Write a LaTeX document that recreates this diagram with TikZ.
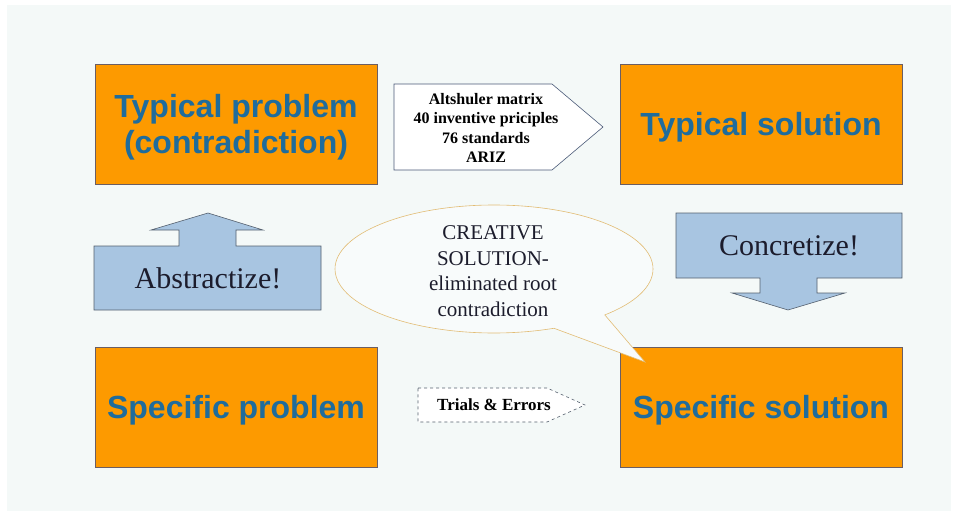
\documentclass[tikz,border=0pt]{standalone}
\usepackage{fontspec}
\setmainfont{Liberation Serif}
\newfontfamily\arialfont{Liberation Sans}
\usetikzlibrary{shapes.callouts}
\definecolor{panel}{HTML}{F4F9F8}
\definecolor{boxorange}{HTML}{FD9A00}
\definecolor{boxedge}{HTML}{6B5E63}
\definecolor{boxtext}{HTML}{1F6C9C}
\definecolor{arrowblue}{HTML}{A8C5E1}
\definecolor{arrowedge}{HTML}{55606E}
\definecolor{tooledge}{HTML}{4A5A78}
\definecolor{calloutedge}{HTML}{E2BC74}
\definecolor{darktext}{HTML}{1C1C2C}
\tikzset{
  >=latex,
}
\tikzstyle{stage}=[semithick,draw=boxedge,fill=boxorange]
\tikzstyle{stagetext}=[yshift=-3pt,text=boxtext,align=center,font=\arialfont\bfseries\fontsize{32}{36}\selectfont]
\tikzstyle{move}=[semithick,draw=arrowedge,fill=arrowblue]
\tikzstyle{movetext}=[text=darktext,font=\fontsize{30}{36}\selectfont]
\tikzstyle{tool}=[semithick,draw=tooledge,fill=white]
\tikzstyle{tooltext}=[align=center,font=\bfseries\fontsize{16}{19.5}\selectfont]

\begin{document}
\begin{tikzpicture}[x=1pt,y=-1pt]
    \fill[white] (0,0) rectangle (955,516);
    \fill[panel] (7,5) rectangle (951,511);
    % the four stages
    \draw[stage] (95,64) rectangle (377,184)
    node[midway,stagetext] (typprob) {Typical problem\\(contradiction)};
    \draw[stage] (620,64) rectangle (902,184)
    node[midway,stagetext] (typsol) {Typical solution};
    \draw[stage] (95,347) rectangle (377,467)
    node[midway,stagetext] (specprob) {Specific problem};
    \draw[stage] (620,347) rectangle (902,467)
    node[midway,stagetext] (specsol) {Specific solution};
    % up and down moves
    \draw[move] (94,246)--(179,246)--(179,230)--(151,230)--(208,213)--(263,230)
    --(236,230)--(236,246)--(321,246)--(321,310)--(94,310)--cycle;
    \node[movetext] (abstr) at (208,278) {Abstractize!};
    \draw[move] (676,213)--(902,213)--(902,278)--(817,278)--(817,293)--(845,293)
    --(788,310)--(732,293)--(760,293)--(760,278)--(676,278)--cycle;
    \node[movetext] (concr) at (789,246) {Concretize!};
    % tools
    \draw[tool] (394,84)--(552,84)--(603,127)--(552,170)--(394,170)--cycle;
    \node[tooltext] (altsh) at (486,128)
    {Altshuler matrix\\40 inventive priciples\\76 standards\\ARIZ};
    \draw[tool,dashed,draw=arrowedge] (418,388)--(547,388)--(585,405)--(547,422)
    --(418,422)--cycle;
    \node[tooltext,font=\bfseries\fontsize{17}{20}\selectfont] (trials) at (494,405)
    {Trials \& Errors};
    % creative solution bubble
    \node[ellipse callout,draw=calloutedge,fill=panel!60!white,semithick,
    minimum width=318pt,minimum height=128pt,inner sep=0pt,
    callout pointer arc=22,callout absolute pointer={(645,362)}]
    (bubble) at (494,269) {};
    \node[align=center,text=darktext,font=\fontsize{21}{25.5}\selectfont]
    (creative) at (493,271)
    {CREATIVE\\SOLUTION-\\eliminated root\\contradiction};
  \end{tikzpicture}
\end{document}
